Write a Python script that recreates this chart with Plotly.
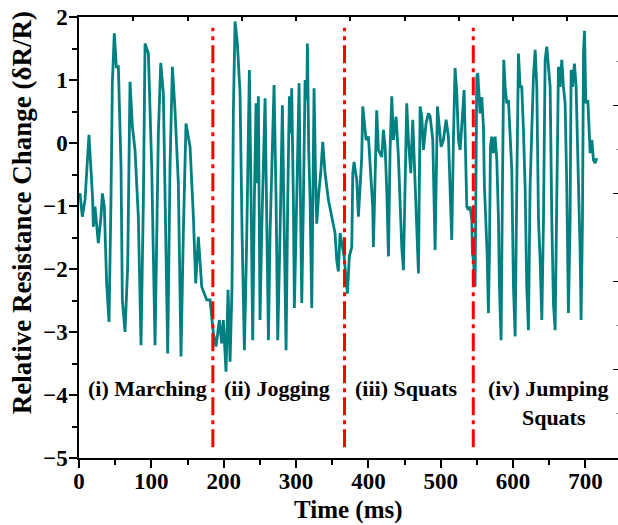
import plotly.graph_objects as go

# ---- data ----
time_ms = [
    0.0, 1.4, 4.6, 8.3, 13.8, 16.6, 18.9, 19.8, 22.1, 26.7, 30.4, 32.3, 35.0, 38.2, 41.5, 44.2,
    46.1, 48.8, 51.6, 54.4, 58.1, 59.9, 63.6, 67.3, 70.5, 73.8, 77.4, 82.0, 85.7, 89.0, 91.3,
    95.9, 100.5, 105.1, 109.7, 113.0, 116.6, 122.6, 125.8, 129.1, 132.7, 137.3, 141.0, 144.2,
    147.9, 153.5, 158.1, 161.3, 165.0, 169.6, 176.5,
    181.1, 185.7, 189.4, 194.0, 197.2, 199.5, 203.2, 206.0, 208.8, 211.5, 213.4, 215.7, 218.9,
    222.6, 225.4, 228.6, 231.8, 235.5, 237.3, 240.1, 242.4, 244.7, 246.6, 247.9, 250.2, 252.5,
    257.2, 259.5, 261.8, 264.1, 266.4, 269.6, 272.4, 274.7, 277.9, 281.1, 283.4, 286.2, 288.5,
    290.8, 292.6, 294.0, 296.3, 297.7, 300.9, 304.2, 305.5, 307.9, 310.2, 312.5, 314.8, 315.7,
    317.5, 319.4, 321.7, 323.1, 324.9, 326.7, 328.6, 331.4, 334.1, 336.9, 340.1, 344.7, 349.3,
    353.9, 356.2, 358.5,
    360.8, 366.4, 371.0, 373.7, 377.0, 378.4, 380.2, 383.9, 386.2, 389.4, 390.8, 392.2, 394.0,
    396.8, 400.0, 403.2, 406.0, 406.9, 409.2, 411.5, 413.8, 416.2, 418.5, 420.8, 423.1, 425.4,
    427.7, 430.0, 432.3, 434.6, 438.3, 441.5, 443.8, 446.1, 448.4, 450.7, 453.0, 455.3, 458.6,
    461.3, 464.5, 466.9, 469.2, 471.5, 473.8, 476.1, 479.7, 483.0, 485.3, 489.0, 492.2, 495.4,
    498.2, 500.5, 503.7, 507.4, 510.6, 512.9, 515.2, 517.5, 519.8, 522.2, 524.5, 526.8, 529.1,
    532.3,
    536.0, 538.3, 540.6, 542.9, 543.8, 545.2, 547.5, 549.8, 551.2, 553.0, 554.4, 556.7, 559.0,
    560.4, 562.2, 564.1, 565.9, 567.3, 568.7, 570.5, 572.8, 575.1, 577.5, 579.8, 581.1, 583.4,
    585.3, 587.1, 589.0, 591.3, 593.6, 595.9, 598.2, 600.5, 602.8, 605.1, 607.4, 609.7, 612.0,
    614.3, 616.6, 618.9, 621.2, 623.5, 625.8, 628.1, 630.5, 632.8, 635.1, 637.4, 639.7, 642.0,
    644.3, 646.6, 648.9, 651.2, 653.5, 655.8, 658.1, 660.4, 662.7, 665.0, 667.3, 669.6, 671.9,
    674.2, 676.5, 678.8, 680.2, 682.1, 684.8, 687.1, 690.4, 692.7, 694.0, 695.9, 697.3, 698.7,
    700.5, 703.3, 705.1, 706.5, 708.8, 711.1, 713.4, 715.7,
]

resistance = [
    -0.85, -0.80, -1.17, -0.90, 0.13, -0.48, -0.90, -1.33, -1.01, -1.59, -1.17, -0.80, -1.01,
    -2.23, -2.84, -0.90, 0.95, 1.74, 1.21, 1.21, -0.38, -2.49, -3.00, -1.96, 0.97, 0.26, -0.11,
    -1.17, -3.21, -0.90, 1.58, 1.42, -0.38, -3.21, 0.15, 1.27, 0.79, -3.34, -0.38, 1.21, 0.52,
    -0.64, -3.39, -1.43, 0.31, -0.06, -1.17, -2.23, -1.49, -2.28, -2.49,
    -2.49, -3.02, -3.23, -2.81, -3.18, -2.81, -3.63, -2.33, -3.47, -2.28, 0.52, 1.93, 1.58,
    0.79, -1.43, -3.29, -1.54, 1.16, -0.38, -3.13, -0.90, 0.63, -0.64, 0.74, -2.81, -1.43,
    0.71, -0.90, -3.13, -1.43, -0.38, 0.92, -0.90, -3.13, -1.43, 0.60, -1.17, -3.29, -0.90,
    0.74, 0.15, 0.87, -0.90, -2.62, -0.90, 0.95, -0.38, -2.54, -0.90, 1.00, 0.68, 1.58,
    -0.11, -0.90, -2.62, -0.90, 0.87, -0.38, -1.28, -0.80, -0.48, 0.02, -0.48, -0.90, -1.17,
    -1.43, -1.86, -2.04,
    -1.43, -1.80, -2.39, -1.80, -1.65, -0.48, -0.30, -0.59, -1.17, -0.59, -0.22, 0.58, 0.37,
    0.05, 0.10, -0.59, -1.01, -1.65, -0.48, 0.52, -0.11, -0.16, -0.22, 0.21, -0.06, -0.75,
    -1.80, -0.11, 0.74, 0.05, 0.42, -0.22, -1.01, -1.65, -2.02, -0.48, 0.63, 0.05, -0.48,
    0.37, -0.59, -1.54, -2.07, 0.58, 0.42, -0.11, 0.31, 0.47, 0.42, 0.05, -1.70, 0.58,
    0.26, -0.06, 0.05, 0.37, 0.10, -0.59, -1.54, 0.05, 1.19, 0.79, 0.05, -0.11, 0.31,
    0.84,
    -1.01, -1.06, -1.01, -1.22, -1.75, -1.86, -2.28, 1.05, 1.11, 0.73, 0.47, 0.73, 0.26,
    -0.69, -1.22, -1.75, -2.70, -1.75, -0.06, 0.10, -0.16, 0.10, -0.27, -1.22, -2.28, -3.13,
    -0.69, 1.32, 0.89, 0.63, 0.68, 0.10, -0.43, -2.28, -3.07, -0.69, 1.42, 0.89, 0.89,
    0.21, -0.69, -2.28, -2.97, -0.69, 0.37, 1.05, 1.48, 0.89, -1.22, -1.86, -2.81, -1.22,
    1.32, 1.53, 1.21, 0.89, -1.22, -2.55, -2.97, -0.69, 1.21, 0.89, 1.32, 0.89, 0.63,
    -0.69, -2.70, -1.22, 1.16, 0.89, 1.26, 0.89, -0.43, -1.75, -2.81, -1.22, 1.42, 1.78,
    0.63, 0.68, 0.21, -0.16, 0.05, -0.27, -0.32, -0.24,
]

boundaries_ms = [185, 367, 545]
phase_labels = ["(i) Marching", "(ii) Jogging", "(iii) Squats", "(iv) Jumping<br>  Squats"]
phase_label_x = [94, 273, 452, 648]

x_ticks = [0, 100, 200, 300, 400, 500, 600, 700]
y_ticks = [-5, -4, -3, -2, -1, 0, 1, 2]

SERIF = "Liberation Serif"
TEAL = "#008080"

fig = go.Figure()
fig.add_trace(go.Scatter(
    x=time_ms, y=resistance, mode="lines",
    line=dict(color=TEAL, width=2.8), showlegend=False, hoverinfo="skip"))
# invisible trace to activate the mirrored top/right axes
fig.add_trace(go.Scatter(x=[None], y=[None], xaxis="x2", yaxis="y2", showlegend=False))

for b in boundaries_ms:
    fig.add_shape(type="line", xref="x", yref="y", x0=b, x1=b, y0=-4.83, y1=1.83,
                  line=dict(color="#ff0000", width=3, dash="18px,5px,4px,5px"))

for lab, lx in zip(phase_labels, phase_label_x):
    multi = "<br>" in lab
    fig.add_annotation(x=lx, y=-3.89, xref="x", yref="y", text=lab, showarrow=False,
                       yanchor="top" if multi else "middle", align="center",
                       yshift=14 if multi else 0,
                       font=dict(family=SERIF, size=22, color="black", weight="bold"))

# axis titles
fig.add_annotation(x=0.5, y=-0.118, xref="paper", yref="paper", text="Time (ms)",
                   showarrow=False, xanchor="center", yanchor="middle",
                   font=dict(family=SERIF, size=25, color="black", weight="bold"))
fig.add_annotation(x=-0.106, y=0.557, xref="paper", yref="paper",
                   text="Relative Resistance Change (δR/R)", textangle=-90,
                   showarrow=False, xanchor="center", yanchor="middle",
                   font=dict(family=SERIF, size=27, color="black", weight="bold"))

tickfont = dict(family=SERIF, size=23, color="black", weight="bold")
fig.update_layout(
    width=618, height=525,
    margin=dict(l=79, r=0, t=17, b=67),
    paper_bgcolor="white", plot_bgcolor="white",
    xaxis=dict(range=[0, 745], tickvals=x_ticks, ticks="outside", ticklen=8, tickwidth=1.5,
               tickcolor="black", showline=True, linecolor="black", linewidth=1.5,
               showgrid=False, zeroline=False, tickfont=tickfont, ticklabelstandoff=-6,
               minor=dict(dtick=50, tick0=0, ticks="outside", ticklen=5, tickwidth=1.5,
                          tickcolor="black", showgrid=False)),
    yaxis=dict(range=[-5, 2], tickvals=y_ticks, ticks="outside", ticklen=8, tickwidth=1.5,
               tickcolor="black", showline=True, linecolor="black", linewidth=1.5,
               showgrid=False, zeroline=False, tickfont=tickfont, ticklabelstandoff=-3,
               minor=dict(dtick=0.5, tick0=0, ticks="outside", ticklen=5, tickwidth=1.5,
                          tickcolor="black", showgrid=False)),
    xaxis2=dict(overlaying="x", side="top", range=[0, 745], tick0=0, dtick=75,
                ticks="inside", ticklen=4, tickwidth=1.5, tickcolor="black",
                showline=True, linecolor="black", linewidth=1.5, showticklabels=False,
                showgrid=False, zeroline=False),
    yaxis2=dict(overlaying="y", side="right", range=[-5, 2], tick0=2, dtick=1.4,
                ticks="inside", ticklen=5, tickwidth=1.2, tickcolor="black",
                showline=False, showticklabels=False, showgrid=False, zeroline=False,
                minor=dict(dtick=0.7, tick0=2, ticks="inside", ticklen=2, tickwidth=1,
                           tickcolor="#999999", showgrid=False)),
)

fig.write_html("out.html")
